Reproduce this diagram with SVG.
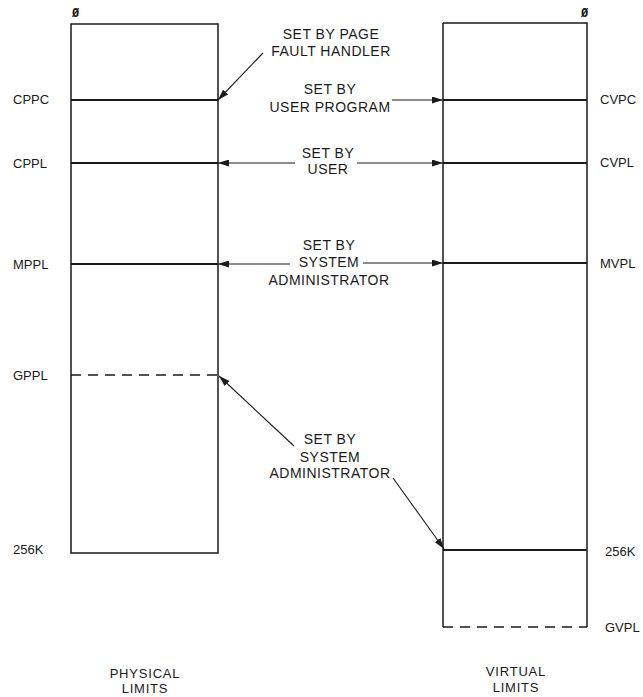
<svg xmlns="http://www.w3.org/2000/svg" width="643" height="697" viewBox="0 0 643 697">
<style>
.box{fill:none;stroke:#1a1a1a;stroke-width:1.5}
.lvl{stroke:#1a1a1a;stroke-width:1.8;fill:none}
.dash{stroke:#1a1a1a;stroke-width:1.6;fill:none;stroke-dasharray:10 7}
.con{stroke:#1a1a1a;stroke-width:1.1;fill:none;marker-end:url(#ah)}
text{font-family:"Liberation Sans",Arial,sans-serif;fill:#1a1a1a}
.lbl{font-size:13px}
.mid{font-size:14px;letter-spacing:0.5px;text-anchor:middle}
.cap{font-size:13px;letter-spacing:0.8px;text-anchor:middle}
.zero{font-family:"DejaVu Sans Mono","Liberation Mono",monospace;font-size:12px;font-weight:bold}
</style>
<defs>
<marker id="ah" markerUnits="userSpaceOnUse" markerWidth="11" markerHeight="7" refX="11" refY="3.5" orient="auto">
<path d="M0,0 L11,3.5 L0,7 z" fill="#1a1a1a"/>
</marker>
</defs>
<rect width="643" height="697" fill="#fff"/>

<g id="physical">
<path class="box" d="M71,24 H218 V553 H71 Z"/>
<text class="zero" x="72" y="17">Ø</text>
<text class="cap" x="145" y="678">PHYSICAL</text>
<text class="cap" x="145" y="693">LIMITS</text>
</g>
<g id="cppc"><line class="lvl" x1="71" y1="100" x2="218" y2="100"/><text class="lbl" x="13" y="104">CPPC</text></g>
<g id="cppl"><line class="lvl" x1="71" y1="163" x2="218" y2="163"/><text class="lbl" x="13" y="168">CPPL</text></g>
<g id="mppl"><line class="lvl" x1="71" y1="264" x2="218" y2="264"/><text class="lbl" x="13" y="269">MPPL</text></g>
<g id="gppl"><line class="dash" x1="71" y1="375" x2="218" y2="375"/><text class="lbl" x="13" y="380">GPPL</text></g>
<g id="p256k"><text class="lbl" x="13" y="554">256K</text></g>

<g id="virtual">
<path class="box" d="M443,23 H587 V627"/>
<path class="box" d="M443,23 V627"/>
<line class="dash" x1="443" y1="627" x2="587" y2="627"/>
<text class="zero" x="581" y="17">Ø</text>
<text class="cap" x="516" y="676">VIRTUAL</text>
<text class="cap" x="516" y="692">LIMITS</text>
</g>
<g id="cvpc"><line class="lvl" x1="443" y1="100" x2="587" y2="100"/><text class="lbl" x="600" y="104">CVPC</text></g>
<g id="cvpl"><line class="lvl" x1="443" y1="163" x2="587" y2="163"/><text class="lbl" x="600" y="167">CVPL</text></g>
<g id="mvpl"><line class="lvl" x1="443" y1="263" x2="587" y2="263"/><text class="lbl" x="600" y="268">MVPL</text></g>
<g id="v256k"><line class="lvl" x1="443" y1="550" x2="587" y2="550"/><text class="lbl" x="605" y="556">256K</text></g>
<g id="gvpl"><text class="lbl" x="605" y="632">GVPL</text></g>

<g id="note-page-fault">
<text class="mid" x="331" y="39">SET BY PAGE</text>
<text class="mid" x="331" y="56">FAULT HANDLER</text>
</g>
<g id="note-user-program">
<text class="mid" x="330" y="94">SET BY</text>
<text class="mid" x="330" y="112">USER PROGRAM</text>
</g>
<g id="note-user">
<text class="mid" x="328" y="158">SET BY</text>
<text class="mid" x="328" y="174">USER</text>
</g>
<g id="note-sysadmin-1">
<text class="mid" x="329" y="250">SET BY</text>
<text class="mid" x="329" y="267">SYSTEM</text>
<text class="mid" x="329" y="285">ADMINISTRATOR</text>
</g>
<g id="note-sysadmin-2">
<text class="mid" x="330" y="444">SET BY</text>
<text class="mid" x="330" y="462">SYSTEM</text>
<text class="mid" x="330" y="478">ADMINISTRATOR</text>
</g>

<g id="connectors">
<line class="con" x1="263" y1="53" x2="218" y2="100"/>
<line class="con" x1="392" y1="100" x2="443" y2="100"/>
<line class="con" x1="295" y1="163" x2="218" y2="163"/>
<line class="con" x1="357" y1="163" x2="443" y2="163"/>
<line class="con" x1="290" y1="264" x2="218" y2="264"/>
<line class="con" x1="363" y1="263" x2="443" y2="263"/>
<line class="con" x1="294" y1="446" x2="219" y2="376"/>
<line class="con" x1="393" y1="478" x2="444" y2="549"/>
</g>
</svg>
